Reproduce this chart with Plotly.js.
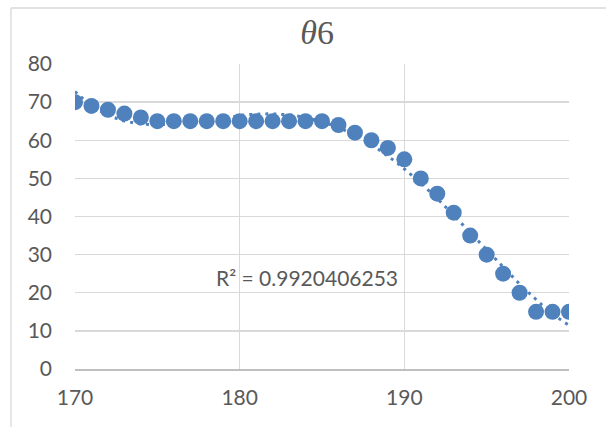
<!DOCTYPE html>
<html><head><meta charset="utf-8">
<script src="https://cdn.plot.ly/plotly-3.0.1.min.js"></script>
<style>body{margin:0;background:#fff}#c{width:606px;height:427px}</style>
</head><body><div id="c"></div>
<script>
const xVals = [170,171,172,173,174,175,176,177,178,179,180,181,182,183,184,185,186,187,188,189,190,191,192,193,194,195,196,197,198,199,200];
const yVals = [70,69,68,67,66,65,65,65,65,65,65,65,65,65,65,65,64,62,60,58,55,50,46,41,35,30,25,20,15,15,15];
const titleText = '<i>θ</i>6';
const r2Text = 'R² = 0.9920406253';
const xTicks = [170,180,190,200];
const yTicks = [0,10,20,30,40,50,60,70,80];
const trendOrder = 4;

// polynomial least squares fit (trendline) from the data
function polyfit(xs, ys, order){
  const n = order+1, x0 = 185;
  const A = Array.from({length:n},()=>new Array(n+1).fill(0));
  for(let k=0;k<xs.length;k++){
    const t = (xs[k]-x0)/15;
    for(let i=0;i<n;i++){
      for(let j=0;j<n;j++) A[i][j]+=Math.pow(t,i+j);
      A[i][n]+=ys[k]*Math.pow(t,i);
    }
  }
  for(let i=0;i<n;i++){
    let p=i; for(let r=i+1;r<n;r++) if(Math.abs(A[r][i])>Math.abs(A[p][i])) p=r;
    [A[i],A[p]]=[A[p],A[i]];
    for(let r=0;r<n;r++){ if(r===i) continue; const f=A[r][i]/A[i][i]; for(let c=i;c<=n;c++) A[r][c]-=f*A[i][c]; }
  }
  const coef = A.map((row,i)=>row[n]/row[i]);
  return x => { const t=(x-x0)/15; let s=0; for(let i=0;i<n;i++) s+=coef[i]*Math.pow(t,i); return s; };
}
const f = polyfit(xVals, yVals, trendOrder);
const tx = [], ty = [];
for(let i=0;i<=300;i++){ const x=170+i*0.1; tx.push(x); ty.push(f(x)); }

const blue = '#4f81bd';
const data = [
  {x: xVals, y: yVals, mode:'markers', marker:{color:blue, size:16}, showlegend:false},
  {x: tx, y: ty, mode:'lines', line:{color:blue, width:3, dash:'3px,5px'}, hoverinfo:'skip', showlegend:false}
];
const font = {family:'Lato, Liberation Sans, sans-serif', color:'#595959', size:21};
const layout = {
  width:606, height:427,
  margin:{l:75, r:37, t:64, b:58},
  paper_bgcolor:'#fff', plot_bgcolor:'#fff',
  font: font,
  title:{text:titleText, font:{family:'Liberation Serif, DejaVu Serif, serif', size:34, color:'#595959'}, x:0.49, xref:'paper', xanchor:'center', y:1.085, yref:'paper', yanchor:'middle'},
  xaxis:{range:[170,200], tickvals:xTicks, ticktext:xTicks.map(String), showgrid:true, gridcolor:'#d9d9d9', gridwidth:1.3, zeroline:false, showline:true, linecolor:'#bfbfbf', linewidth:1.5, ticks:'', ticklabelstandoff:9, tickfont:font},
  yaxis:{range:[0,80], tickvals:yTicks, ticktext:yTicks.map(String), showgrid:true, gridcolor:'#d9d9d9', gridwidth:1.3, zeroline:false, showline:false, ticks:'', ticklabelstandoff:22, tickfont:font},
  annotations:[{x:184.1, y:24, xref:'x', yref:'y', text:r2Text, showarrow:false, font:{family:'Lato, Liberation Sans, sans-serif', size:21, color:'#595959'}}],
  shapes:[
    {type:'line', xref:'paper', yref:'paper', x0:-0.1296, x1:-0.1296, y0:-0.4, y1:1.1836, line:{color:'#d9d9d9', width:1.3}, layer:'above'},
    {type:'line', xref:'paper', yref:'paper', x0:-0.1296, x1:1.2, y0:1.1836, y1:1.1836, line:{color:'#d9d9d9', width:1.3}, layer:'above'}
  ]
};
Plotly.newPlot('c', data, layout, {displayModeBar:false, staticPlot:true});
</script></body></html>
